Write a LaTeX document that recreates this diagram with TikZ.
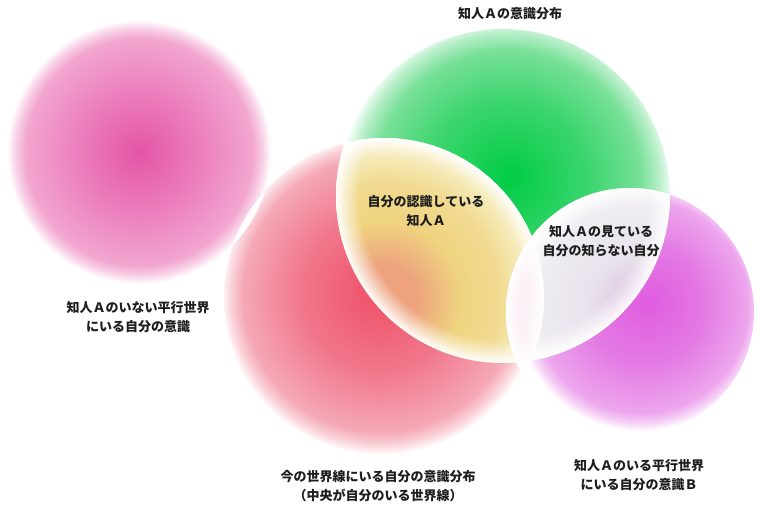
\documentclass[tikz,border=0pt]{standalone}
\usepackage{fontspec}
\newfontfamily\jpfont{Noto Sans CJK JP}
\usepackage{tikz}
\usetikzlibrary{fadings}

\definecolor{pinkcore}{HTML}{E455A6}
\definecolor{pinkmid}{HTML}{EC80BE}
\definecolor{pinkedge}{HTML}{F2A6D0}
\definecolor{greencore}{HTML}{00CC44}
\definecolor{greenmid}{HTML}{3CD56E}
\definecolor{greenedge}{HTML}{78E098}
\definecolor{redcore}{HTML}{EE5068}
\definecolor{redmid}{HTML}{F1768A}
\definecolor{rededge}{HTML}{F5A8B6}
\definecolor{purplecore}{HTML}{E05CE0}
\definecolor{purplemid}{HTML}{E47AE4}
\definecolor{purpleedge}{HTML}{EDA6ED}
\definecolor{yellowcore}{HTML}{EEA27E}
\definecolor{yellowmid}{HTML}{EFD480}
\definecolor{yellowedge}{HTML}{F5EAB8}
\definecolor{greycore}{HTML}{DDBCE0}
\definecolor{greymid}{HTML}{E8E2EC}
\definecolor{greyedge}{HTML}{EFEDF2}
\definecolor{blush}{HTML}{FCEEF6}
\definecolor{ink}{HTML}{1E1E1E}

\pgfdeclareradialshading{pinkball}{\pgfpointorigin}{color(0bp)=(pinkcore); color(12bp)=(pinkmid); color(21.5bp)=(pinkedge); color(23.5bp)=(pinkedge!50!white); color(25bp)=(white); color(50bp)=(white)}
\pgfdeclareradialshading{greenball}{\pgfpoint{1bp}{3bp}}{color(0bp)=(greencore); color(12bp)=(greenmid); color(20bp)=(greenedge); color(23bp)=(greenedge!50!white); color(25bp)=(white); color(50bp)=(white)}
\pgfdeclareradialshading{redball}{\pgfpoint{-1bp}{1bp}}{color(0bp)=(redcore); color(12bp)=(redmid); color(21.5bp)=(rededge); color(23.5bp)=(rededge!50!white); color(25bp)=(white); color(50bp)=(white)}
\pgfdeclareradialshading{purpleball}{\pgfpoint{4bp}{2bp}}{color(0bp)=(purplecore); color(12bp)=(purplemid); color(21.5bp)=(purpleedge); color(23.5bp)=(purpleedge!50!white); color(25bp)=(white); color(50bp)=(white)}
\pgfdeclareradialshading{yellowlens}{\pgfpointorigin}{color(0bp)=(yellowcore); color(5bp)=(yellowcore); color(12bp)=(yellowmid); color(18bp)=(yellowmid!70!yellowedge); color(22bp)=(yellowedge); color(25bp)=(white); color(50bp)=(white)}
\pgfdeclareradialshading{greylens}{\pgfpoint{3bp}{1bp}}{color(0bp)=(greycore); color(5bp)=(greycore!60!greymid); color(11bp)=(greymid); color(21bp)=(greyedge); color(25bp)=(white); color(50bp)=(white)}
\pgfdeclareradialshading{rimshade}{\pgfpointorigin}{color(0bp)=(black); color(21.5bp)=(black); color(23.5bp)=(black!45!white); color(25bp)=(white); color(50bp)=(white)}
\pgfdeclarefading{rim}{\pgfuseshading{rimshade}}

\begin{document}
\begin{tikzpicture}[x=1pt, y=-1pt,
	rimglow/.style={fill=white, path fading=rim},
	blurb/.style={font=\jpfont\bfseries\fontsize{13}{19.5}\selectfont, align=center, text=ink, inner sep=0pt}]
	\useasboundingbox (0,0) rectangle (760,510);

	\coordinate (pink) at (139,152);
	\coordinate (red) at (384,298);
	\coordinate (green) at (503,196);
	\coordinate (purple) at (630,312);

	\shade[shading=pinkball] (pink) circle (132pt);
	\shade[shading=greenball] (green) circle (167pt);
	\shade[shading=redball] (red) circle (160pt);
	\shade[shading=purpleball] (purple) circle (124pt);

	% overlaps
	\begin{scope}
		\clip (pink) circle (132pt);
		\fill[white] (red) circle (160pt);
	\end{scope}
	\begin{scope}
		\clip (green) circle (167pt);
		\clip (red) circle (160pt);
		\shade[shading=yellowlens] (red) circle (160pt);
		\path[rimglow] (green) circle (167pt);
	\end{scope}
	\begin{scope}
		\clip (green) circle (167pt);
		\clip (purple) circle (124pt);
		\shade[shading=greylens] (purple) circle (124pt);
		\path[rimglow] (green) circle (167pt);
	\end{scope}
	\begin{scope}
		\clip (red) circle (160pt);
		\clip (purple) circle (124pt);
		\fill[blush] (purple) circle (124pt);
		\path[rimglow] (red) circle (160pt);
		\path[rimglow] (purple) circle (124pt);
	\end{scope}

	\node[blurb] (title) at (510,14) {知人Ａの意識分布};
	\node[blurb] (seen) at (426,211) {自分の認識している\\知人Ａ};
	\node[blurb] (unseen) at (601,241) {知人Ａの見ている\\自分の知らない自分};
	\node[blurb] (nobody) at (138,317) {知人Ａのいない平行世界\\にいる自分の意識};
	\node[blurb] (here) at (378,486) {今の世界線にいる自分の意識分布\\（中央が自分のいる世界線）};
	\node[blurb] (other) at (639,475) {知人Ａのいる平行世界\\にいる自分の意識Ｂ};
\end{tikzpicture}
\end{document}
